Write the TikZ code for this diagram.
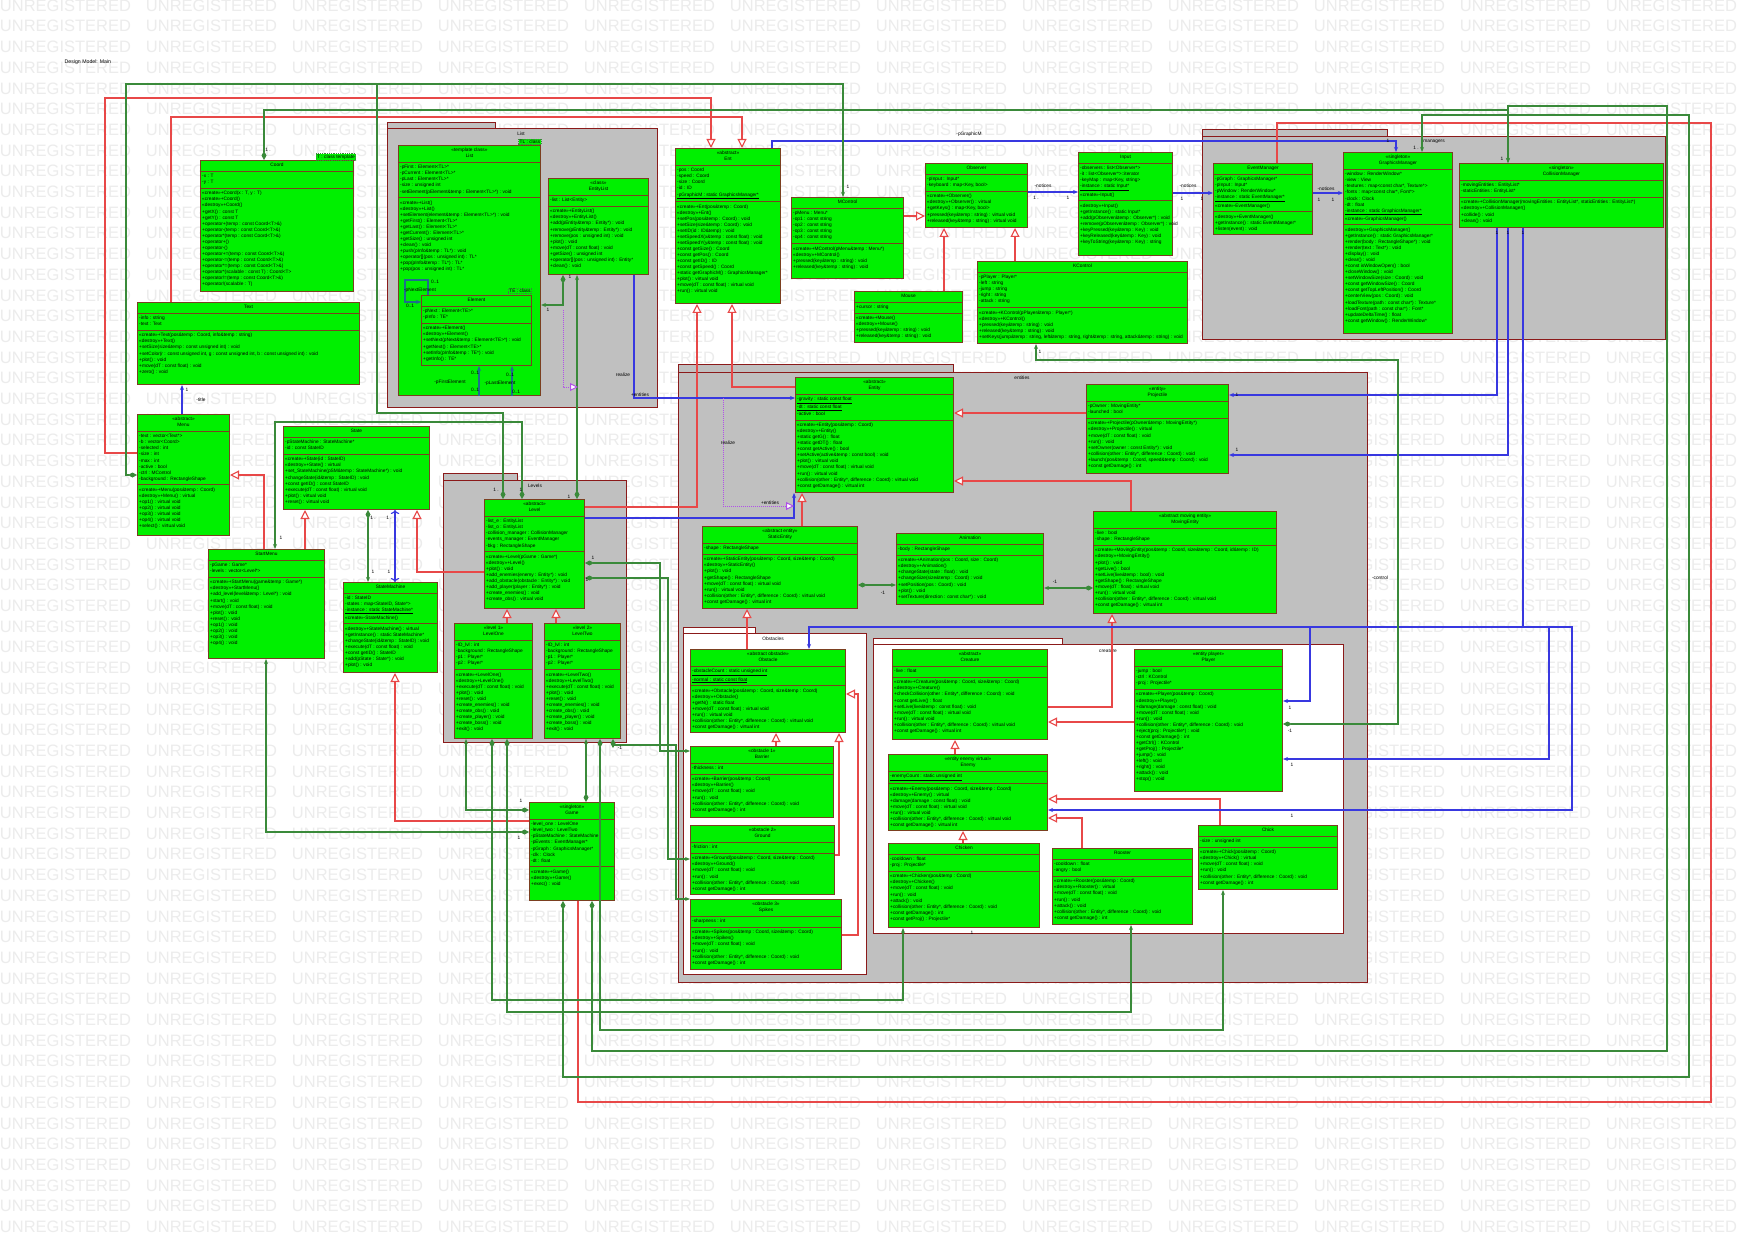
\documentclass[tikz,border=0pt]{standalone}
\usepackage{fontspec}
\setmainfont{Liberation Sans}
\usepackage{tikz}
\usetikzlibrary{arrows.meta,calc}
\definecolor{clsfill}{HTML}{00F000}
\definecolor{clsborder}{HTML}{7B3F20}
\definecolor{pkgfill}{HTML}{C0C0C0}
\definecolor{pkgborder}{HTML}{8B1A1A}
\definecolor{genred}{HTML}{E84848}
\definecolor{assocblue}{HTML}{3838E0}
\definecolor{compgreen}{HTML}{3A8A3A}
\definecolor{listteal}{HTML}{1F6E8C}
\definecolor{realizepurple}{HTML}{B050E8}
\definecolor{wmgray}{HTML}{ECECEC}

\newcommand{\clsfont}{\fontsize{4.8}{6.05}\selectfont}
\newcommand{\clslines}[1]{\def\clstmp{#1}\ifx\clstmp\empty\else\strut#1\strut\fi}
% class box: name, x, y, width, height, header, attributes, operations
\newcommand{\umlclass}[8]{%
  \node[clsbox, minimum width=#4pt, minimum height=#5pt] (#1) at (#2,#3) {};
  \node[clshead] (#1-h) at (#1.north) {\clslines{#6}};
  \draw[clsline] (#1.west |- #1-h.south) -- (#1.east |- #1-h.south);
  \path (#1.west |- #1-h.south) ++(2,0) node[clspart] (#1-a) {\clslines{#7}};
  \draw[clsline] (#1.west |- #1-a.south) -- (#1.east |- #1-a.south);
  \path (#1.west |- #1-a.south) ++(2,0) node[clspart] (#1-m) {\clslines{#8}};
}

\begin{document}
\begin{tikzpicture}[
  x=1pt, y=-1pt,
  clsbox/.style={draw=clsborder, fill=clsfill, line width=1pt, anchor=north west, inner sep=0pt},
  clshead/.style={anchor=north, align=center, inner xsep=0pt, inner ysep=2.3pt, font=\clsfont},
  clspart/.style={anchor=north west, align=left, inner xsep=0pt, inner ysep=2.3pt, font=\clsfont},
  clsline/.style={draw=clsborder, line width=0.8pt},
  pkgbody/.style={draw=pkgborder, fill=pkgfill, line width=1pt, anchor=north west, inner sep=0pt},
  pkgwhite/.style={pkgbody, fill=white},
  tmpl/.style={draw=compgreen, densely dotted, fill=clsfill, line width=0.8pt, font=\clsfont, inner sep=1pt},
  mult/.style={font=\clsfont, inner sep=0.5pt},
  wmark/.style={font=\fontsize{16.5}{16.5}\selectfont, text=wmgray, inner sep=0pt},
  gen/.style={draw=genred, line width=1.1pt, -{Triangle[length=9pt, width=9pt, fill=white]}},
  redline/.style={draw=genred, line width=1.1pt},
  assoc/.style={draw=assocblue, line width=1.1pt, -{Stealth[length=5pt, width=4pt]}},
  comp/.style={draw=compgreen, line width=1.1pt, {Diamond[length=9pt, width=5pt]}-{Stealth[length=5pt, width=4pt]}},
  compline/.style={draw=compgreen, line width=1.1pt, {Diamond[length=9pt, width=5pt]}-},
  tealarrow/.style={draw=listteal, line width=1.1pt, -{Stealth[length=5pt, width=4pt]}},
  realize/.style={draw=realizepurple, densely dotted, line width=1pt, -{Triangle[length=8pt, width=8pt, fill=white]}}
]
\useasboundingbox (0,0) rectangle (1754,1241);
\fill[white] (0,0) rectangle (1754,1241);

% watermark rows
\foreach \r in {0,...,59} {
  \foreach \c in {0,...,11} {
    \node[wmark] (wm-\r-\c) at (\c*146+65.5, \r*20.7+5.6) {UNREGISTERED};
  }
}

\node[mult, anchor=west, font=\fontsize{5.2}{6}\selectfont] (title) at (64,62) {Design Model: Main};

% packages
\node[pkgbody, minimum width=108pt, minimum height=7pt] (pkg-list-tab) at (387,122) {};
\node[pkgbody, minimum width=270pt, minimum height=279pt] (pkg-list) at (387,128) {};
\node[pkgbody, minimum width=74pt, minimum height=7pt] (pkg-levels-tab) at (443,473) {};
\node[pkgbody, minimum width=183pt, minimum height=262pt] (pkg-levels) at (443,480) {};
\node[pkgbody, minimum width=275pt, minimum height=8pt] (pkg-entities-tab) at (678,364) {};
\node[pkgbody, minimum width=689pt, minimum height=610pt] (pkg-entities) at (678,372) {};
\node[pkgwhite, minimum width=72pt, minimum height=6pt] (pkg-obstacles-tab) at (683,627) {};
\node[pkgwhite, minimum width=183pt, minimum height=341pt] (pkg-obstacles) at (683,633) {};
\node[pkgwhite, minimum width=189pt, minimum height=6pt] (pkg-creature-tab) at (873,638) {};
\node[pkgwhite, minimum width=470pt, minimum height=289pt] (pkg-creature) at (873,644) {};
\node[pkgbody, minimum width=185pt, minimum height=7pt] (pkg-managers-tab) at (1202,129) {};
\node[pkgbody, minimum width=463pt, minimum height=203pt] (pkg-managers) at (1202,136) {};
\node[mult] (lbl-list) at (521,134) {List};
\node[mult] (lbl-levels) at (535,486) {Levels};
\node[mult] (lbl-entities) at (1022,378) {entities};
\node[mult] (lbl-obstacles) at (773,639) {Obstacles};
\node[mult] (lbl-creature) at (1108,651) {creature};
\node[mult] (lbl-managers) at (1434,142) {managers};

% left column
\umlclass{coord}{200}{160}{153}{131}{Coord}{-x : T\\-y : T}{«create»+Coord(x : T, y : T)\\«create»+Coord()\\«destroy»+Coord()\\+getX() : const T\\+getY() : const T\\+operator+(temp : const Coord<T>\&)\\+operator-(temp : const Coord<T>\&)\\+operator*(temp : const Coord<T>\&)\\+operator+()\\+operator-()\\+operator+=(temp : const Coord<T>\&)\\+operator-=(temp : const Coord<T>\&)\\+operator*=(temp : const Coord<T>\&)\\+operator*(scalable : const T) : Coord<T>\\+operator/=(temp : const Coord<T>\&)\\+operator/(scalable : T)}
\node[tmpl] (coord-t) at (336,157) {T : class template};

\umlclass{text}{137}{302}{222}{82}{Text}{-info : string\\-text : Text}{«create»+Text(pos\&temp : Coord, info\&temp : string)\\«destroy»+Text()\\+setSize(size\&temp : const unsigned int) : void\\+setColor(r : const unsigned int, g : const unsigned int, b : const unsigned int) : void\\+plot() : void\\+move(dT : const float) : void\\+zero() : void}

\umlclass{menu}{137}{414}{92}{121}{«abstract»\\Menu}{-text : vector<Text*>\\-b : vector<Coord>\\-selected : int\\-size : int\\-max : int\\-active : bool\\-ctrl : MControl\\-background : RectangleShape}{«create»+Menu(pos\&temp : Coord)\\«destroy»+Menu() : virtual\\+op1() : virtual void\\+op2() : virtual void\\+op3() : virtual void\\+op4() : virtual void\\+select() : virtual void}

\umlclass{startmenu}{208}{549}{116}{109}{StartMenu}{-pGame : Game*\\-levels : vector<Level*>}{«create»+StartMenu(game\&temp : Game*)\\«destroy»+StartMenu()\\+add\_level(level\&temp : Level*) : void\\+start() : void\\+move(dT : const float) : void\\+plot() : void\\+reset() : void\\+op1() : void\\+op2() : void\\+op3() : void\\+op4() : void}

\umlclass{state}{283}{426}{146}{83}{State}{-pStateMachine : StateMachine*\\-id : const StateID}{«create»+State(id : StateID)\\«destroy»+State() : virtual\\+set\_StateMachine(pSM\&temp : StateMachine*) : void\\+changeState(id\&temp : StateID) : void\\+const getID() : const StateID\\+execute(dT : const float) : virtual void\\+plot() : virtual void\\+reset() : virtual void}

\umlclass{statemachine}{343}{582}{94}{90}{StateMachine}{-id : StateID\\-states : map<StateID, State*>\\\underline{-instance : static StateMachine*}\\«create»-StateMachine()}{«destroy»+StateMachine() : virtual\\+getInstance() : static StateMachine*\\+changeState(id\&temp : StateID) : void\\+execute(dT : const float) : void\\+const getID() : StateID\\+add(pState : State*) : void\\+plot() : void}

% list package
\umlclass{list}{398}{145}{142}{250}{«template class»\\List}{-pFirst : Element<TL>*\\-pCurrent : Element<TL>*\\-pLast : Element<TL>*\\-size : unsigned int\\-setElement(pElement\&temp : Element<TL>*) : void}{«create»+List()\\«destroy»+List()\\+setElement(element\&temp : Element<TL>*) : void\\+getFirst() : Element<TL>*\\+getLast() : Element<TL>*\\+getCurrent() : Element<TL>*\\+getSize() : unsigned int\\+clean() : void\\+push(pInfo\&temp : TL*) : void\\+operator[](pos : unsigned int) : TL*\\+pop(pInfo\&temp : TL*) : TL*\\+pop(pos : unsigned int) : TL*}
\node[tmpl] (list-t) at (530,142) {TL : class};
\umlclass{element}{421}{295}{110}{70}{Element}{-pNext : Element<TE>*\\-pInfo : TE*}{«create»+Element()\\«destroy»+Element()\\+setNext(pNext\&temp : Element<TE>*) : void\\+getNext() : Element<TE>*\\+setInfo(pInfo\&temp : TE*) : void\\+getInfo() : TE*}
\node[tmpl] (element-t) at (520,291) {TE : class};
\umlclass{entitylist}{548}{178}{100}{96}{«class»\\EntityList}{-list : List<Entity>}{«create»+EntityList()\\«destroy»+EntityList()\\+add(pEntity\&temp : Entity*) : void\\+remove(pEntity\&temp : Entity*) : void\\+remove(pos : unsigned int) : void\\+plot() : void\\+move(dT : const float) : void\\+getSize() : unsigned int\\+operator[](pos : unsigned int) : Entity*\\+clean() : void}

% top row
\umlclass{ent}{675}{148}{105}{155}{«abstract»\\Ent}{-pos : Coord\\-speed : Coord\\-size : Coord\\-id : ID\\\underline{-pGraphicM : static GraphicsManager*}}{«create»+Ent(pos\&temp : Coord)\\«destroy»+Ent()\\+setPos(pos\&temp : Coord) : void\\+setSize(size\&temp : Coord) : void\\+setID(id : ID\&temp) : void\\+setSpeedX(x\&temp : const float) : void\\+setSpeedY(y\&temp : const float) : void\\+const getSize() : Coord\\+const getPos() : Coord\\+const getID() : ID\\+const getSpeed() : Coord\\+static getGraphicM() : GraphicsManager*\\+plot() : virtual void\\+move(dT : const float) : virtual void\\+run() : virtual void}

\umlclass{mcontrol}{791}{197}{112}{81}{MControl}{-pMenu : Menu*\\-op1 : const string\\-op2 : const string\\-op3 : const string\\-op4 : const string}{«create»+MControl(pMenu\&temp : Menu*)\\«destroy»+MControl()\\+pressed(key\&temp : string) : void\\+released(key\&temp : string) : void}

\umlclass{observer}{925}{163}{102}{64}{Observer}{-pInput : Input*\\-keyboard : map<Key, bool>}{«create»+Observer()\\«destroy»+Observer() : virtual\\+getKeys() : map<Key, bool>\\+pressed(key\&temp : string) : virtual void\\+released(key\&temp : string) : virtual void}

\umlclass{mouse}{854}{291}{108}{51}{Mouse}{+cursor : string}{«create»+Mouse()\\«destroy»+Mouse()\\+pressed(key\&temp : string) : void\\+released(key\&temp : string) : void}

\umlclass{kcontrol}{977}{261}{210}{82}{KControl}{-pPlayer : Player*\\-left : string\\-jump : string\\-right : string\\-attack : string}{«create»+KControl(pPlayer\&temp : Player*)\\«destroy»+KControl()\\+pressed(key\&temp : string) : void\\+released(key\&temp : string) : void\\+setKeys(jump\&temp : string, left\&temp : string, right\&temp : string, attack\&temp : string) : void}

\umlclass{input}{1078}{152}{94}{103}{Input}{-observers : list<Observer*>\\-it : list<Observer*>::iterator\\-keyMap : map<Key, string>\\\underline{-instance : static Input*}\\«create»-Input()}{«destroy»+Input()\\+getInstance() : static Input*\\+add(pObserver\&temp : Observer*) : void\\+remove(pObserver\&temp : Observer*) : void\\+keyPressed(key\&temp : Key) : void\\+keyReleased(key\&temp : Key) : void\\+keyToString(key\&temp : Key) : string}

% managers package
\umlclass{eventmanager}{1213}{163}{99}{71}{EventManager}{-pGraph : GraphicsManager*\\-pInput : Input*\\-pWindow : RenderWindow*\\\underline{-instance : static EventManager*}\\«create»-EventManager()}{«destroy»+EventManager()\\+getInstance() : static EventManager*\\+listen(event) : void}

\umlclass{graphicsmanager}{1343}{152}{109}{181}{«singleton»\\GraphicsManager}{-window : RenderWindow*\\-view : View\\-textures : map<const char*, Texture*>\\-fonts : map<const char*, Font*>\\-clock : Clock\\-dt : float\\\underline{-instance : static GraphicsManager*}\\«create»-GraphicsManager()}{«destroy»+GraphicsManager()\\+getInstance() : static GraphicsManager*\\+render(body : RectangleShape*) : void\\+render(text : Text*) : void\\+display() : void\\+clear() : void\\+const isWindowOpen() : bool\\+closeWindow() : void\\+setWindowSize(size : Coord) : void\\+const getWindowSize() : Coord\\+const getTopLeftPosition() : Coord\\+centerView(pos : Coord) : void\\+loadTexture(path : const char*) : Texture*\\+loadFont(path : const char*) : Font*\\+updateDeltaTime() : float\\+const getWindow() : RenderWindow*}

\umlclass{collisionmanager}{1459}{163}{204}{64}{«singleton»\\CollisionManager}{-movingEntities : EntityList*\\-staticEntities : EntityList*}{«create»+CollisionManager(movingEntities : EntityList*, staticEntities : EntityList*)\\«destroy»+CollisionManager()\\+collide() : void\\+clean() : void}

% levels package
\umlclass{level}{484}{499}{100}{109}{«abstract»\\Level}{-list\_e : EntityList\\-list\_o : EntityList\\-collision\_manager : CollisionManager\\-events\_manager : EventManager\\-bkg : RectangleShape}{«create»+Level(pGame : Game*)\\«destroy»+Level()\\+plot() : void\\+add\_enemies(enemy : Entity*) : void\\+add\_obstacle(obstacle : Entity*) : void\\+add\_player(player : Entity*) : void\\+create\_enemies() : void\\+create\_obs() : virtual void}

\umlclass{levelone}{454}{623}{78}{115}{«level 1»\\LevelOne}{-ID\_lvl : int\\-background : RectangleShape\\-p1 : Player*\\-p2 : Player*}{«create»+LevelOne()\\«destroy»+LevelOne()\\+execute(dT : const float) : void\\+plot() : void\\+reset() : void\\+create\_enemies() : void\\+create\_obs() : void\\+create\_player() : void\\+create\_boss() : void\\+exit() : void}

\umlclass{leveltwo}{544}{623}{76}{115}{«level 2»\\LevelTwo}{-ID\_lvl : int\\-background : RectangleShape\\-p1 : Player*\\-p2 : Player*}{«create»+LevelTwo()\\«destroy»+LevelTwo()\\+execute(dT : const float) : void\\+plot() : void\\+reset() : void\\+create\_enemies() : void\\+create\_obs() : void\\+create\_player() : void\\+create\_boss() : void\\+exit() : void}

\umlclass{game}{529}{802}{85}{98}{«singleton»\\Game}{-level\_one : LevelOne\\-level\_two : LevelTwo\\-pStateMachine : StateMachine\\-pEvents : EventManager*\\-pGraph : GraphicsManager*\\-clk : Clock\\-dt : float}{«create»+Game()\\«destroy»+Game()\\+exec() : void}

% entities package
\umlclass{entity}{795}{377}{158}{115}{«abstract»\\Entity}{\underline{-gravity : static const float}\\\underline{-dt : static const float}\\-active : bool}{«create»+Entity(pos\&temp : Coord)\\«destroy»+Entity()\\+static getG() : float\\+static getDT() : float\\+const getActive() : bool\\+setActive(active\&temp : const bool) : void\\+plot() : virtual void\\+move(dT : const float) : virtual void\\+run() : virtual void\\+collision(other : Entity*, difference : Coord) : virtual void\\+const getDamage() : virtual int}

\umlclass{staticentity}{702}{526}{155}{82}{«abstract entity»\\StaticEntity}{-shape : RectangleShape}{«create»+StaticEntity(pos\&temp : Coord, size\&temp : Coord)\\«destroy»+StaticEntity()\\+plot() : void\\+getShape() : RectangleShape\\+move(dT : const float) : virtual void\\+run() : virtual void\\+collision(other : Entity*, difference : Coord) : virtual void\\+const getDamage() : virtual int}

\umlclass{animation}{896}{533}{147}{71}{Animation}{-body : RectangleShape}{«create»+Animation(pos : Coord, size : Coord)\\«destroy»+Animation()\\+changeState(state : float) : void\\+changeSize(size\&temp : Coord) : void\\+setPosition(pos : Coord) : void\\+plot() : void\\+setTexture(direction : const char*) : void}

\umlclass{projectile}{1086}{384}{142}{89}{«entity»\\Projectile}{-pOwner : MovingEntity*\\-launched : bool}{«create»+Projectile(pOwner\&temp : MovingEntity*)\\«destroy»+Projectile() : virtual\\+move(dT : const float) : void\\+run() : void\\+setOwner(owner : const Entity*) : void\\+collision(other : Entity*, difference : Coord) : void\\+launch(pos\&temp : Coord, speed\&temp : Coord) : void\\+const getDamage() : int}

\umlclass{movingentity}{1093}{511}{183}{102}{«abstract moving entity»\\MovingEntity}{-live : bool\\-shape : RectangleShape}{«create»+MovingEntity(pos\&temp : Coord, size\&temp : Coord, id\&temp : ID)\\«destroy»+MovingEntity()\\+plot() : void\\+getLive() : bool\\+setLive(live\&temp : bool) : void\\+getShape() : RectangleShape\\+move(dT : float) : virtual void\\+run() : virtual void\\+collision(other : Entity*, difference : Coord) : virtual void\\+const getDamage() : virtual int}

% obstacles package
\umlclass{obstacle}{690}{649}{155}{83}{«abstract obstacle»\\Obstacle}{\underline{-obstacleCount : static unsigned int}\\\underline{-normal : static const float}}{«create»+Obstacle(pos\&temp : Coord, size\&temp : Coord)\\«destroy»+Obstacle()\\+getN() : static float\\+move(dT : const float) : virtual void\\+run() : virtual void\\+collision(other : Entity*, difference : Coord) : virtual void\\+const getDamage() : virtual int}

\umlclass{barrier}{690}{746}{143}{71}{«obstacle 1»\\Barrier}{-thickness : int}{«create»+Barrier(pos\&temp : Coord)\\«destroy»+Barrier()\\+move(dT : const float) : void\\+run() : void\\+collision(other : Entity*, difference : Coord) : void\\+const getDamage() : int}

\umlclass{ground}{690}{825}{144}{69}{«obstacle 2»\\Ground}{-friction : int}{«create»+Ground(pos\&temp : Coord, size\&temp : Coord)\\«destroy»+Ground()\\+move(dT : const float) : void\\+run() : void\\+collision(other : Entity*, difference : Coord) : void\\+const getDamage() : int}

\umlclass{spikes}{690}{899}{151}{70}{«obstacle 3»\\Spikes}{-sharpness : int}{«create»+Spikes(pos\&temp : Coord, size\&temp : Coord)\\«destroy»+Spikes()\\+move(dT : const float) : void\\+run() : void\\+collision(other : Entity*, difference : Coord) : void\\+const getDamage() : int}

% creature package
\umlclass{creature}{892}{649}{155}{90}{«abstract»\\Creature}{-live : float}{«create»+Creature(pos\&temp : Coord, size\&temp : Coord)\\«destroy»+Creature()\\+checkCollision(other : Entity*, difference : Coord) : void\\+const getLive() : float\\+setLive(live\&temp : const float) : void\\+move(dT : const float) : virtual void\\+run() : virtual void\\+collision(other : Entity*, difference : Coord) : virtual void\\+const getDamage() : virtual int}

\umlclass{player}{1134}{649}{148}{142}{«entity player»\\Player}{-jump : bool\\-ctrl : KControl\\-proj : Projectile*}{«create»+Player(pos\&temp : Coord)\\«destroy»+Player()\\+damage(damage : const float) : void\\+move(dT : const float) : void\\+run() : void\\+collision(other : Entity*, difference : Coord) : void\\+eject(proj : Projectile*) : void\\+const getDamage() : int\\+getCtrl() : KControl\\+getProj() : Projectile*\\+jump() : void\\+left() : void\\+right() : void\\+attack() : void\\+stop() : void}

\umlclass{enemy}{888}{754}{159}{76}{«entity enemy virtual»\\Enemy}{\underline{-enemyCount : static unsigned int}}{«create»+Enemy(pos\&temp : Coord, size\&temp : Coord)\\«destroy»+Enemy() : virtual\\+damage(damage : const float) : void\\+move(dT : const float) : virtual void\\+run() : virtual void\\+collision(other : Entity*, difference : Coord) : virtual void\\+const getDamage() : virtual int}

\umlclass{chicken}{888}{843}{151}{84}{Chicken}{-cooldown : float\\-proj : Projectile*}{«create»+Chicken(pos\&temp : Coord)\\«destroy»+Chicken()\\+move(dT : const float) : void\\+run() : void\\+attack() : void\\+collision(other : Entity*, difference : Coord) : void\\+const getDamage() : int\\+const getProj() : Projectile*}

\umlclass{rooster}{1052}{848}{140}{76}{Rooster}{-cooldown : float\\-angry : bool}{«create»+Rooster(pos\&temp : Coord)\\«destroy»+Rooster() : virtual\\+move(dT : const float) : void\\+run() : void\\+attack() : void\\+collision(other : Entity*, difference : Coord) : void\\+const getDamage() : int}

\umlclass{chick}{1198}{825}{139}{64}{Chick}{-size : unsigned int}{«create»+Chick(pos\&temp : Coord)\\«destroy»+Chick() : virtual\\+move(dT : const float) : void\\+run() : void\\+collision(other : Entity*, difference : Coord) : void\\+const getDamage() : int}

% generalizations
\draw[gen] (menu.west |- 0,453) -| (105,98) -| (711,0 |- ent.north);
\draw[gen] (171,0 |- text.north) |- (742,117) -- (742,0 |- ent.north);
\draw[gen] (level.east |- 0,507) -| (697,0 |- ent.south);
\draw[gen] (entity.west |- 0,387) -| (732,0 |- ent.south);
\draw[gen] (264,0 |- startmenu.north) |- (menu.east |- 0,475);
\draw[gen] (305,0 |- startmenu.north) -- (305,0 |- state.south);
\draw[gen] (level.west |- 0,572) -| (417,0 |- state.south);
\draw[gen] (game.west |- 0,821) -| (395,0 |- statemachine.south);
\draw[gen] (507,0 |- levelone.north) -- (507,0 |- level.south);
\draw[gen] (556,0 |- leveltwo.north) -- (556,0 |- level.south);
\draw[gen] (mcontrol.east |- 0,216) -- (observer.west |- 0,216);
\draw[gen] (944,0 |- mouse.north) -- (944,0 |- observer.south);
\draw[gen] (1015,0 |- kcontrol.north) -- (1015,0 |- observer.south);
\draw[gen] (projectile.west |- 0,413) -- (entity.east |- 0,413);
\draw[gen] (1131,0 |- movingentity.north) |- (entity.east |- 0,481);
\draw[gen] (802,0 |- staticentity.north) -- (802,0 |- entity.south);
\draw[gen] (747,0 |- obstacle.north) -- (747,0 |- staticentity.south);
\draw[gen] (776,0 |- barrier.north) -- (776,0 |- obstacle.south);
\draw[gen] (ground.east |- 0,855) -| (839,0 |- obstacle.south);
\draw[gen] (spikes.east |- 0,935) -| (858,694) -- (obstacle.east |- 0,694);
\draw[gen] (creature.east |- 0,707) -| (1112,0 |- movingentity.south);
\draw[gen] (player.west |- 0,722) -- (creature.east |- 0,722);
\draw[gen] (955,0 |- enemy.north) -- (955,0 |- creature.south);
\draw[gen] (963,0 |- chicken.north) -- (963,0 |- enemy.south);
\draw[gen] (1082,0 |- rooster.north) |- (enemy.east |- 0,818);
\draw[gen] (1220,0 |- chick.north) |- (enemy.east |- 0,799);
\draw[redline] (578,0 |- game.south) |- (1711,1102) |- (1277,123) -- (1277,0 |- eventmanager.north);

% associations
\draw[assoc] (182,0 |- menu.north) -- (182,0 |- text.south);
\draw[assoc, <->] (395,0 |- statemachine.north) -- (395,0 |- state.south);
\draw[assoc] (observer.east |- 0,192) -- (input.west |- 0,192);
\draw[assoc] (input.east |- 0,193) -- (eventmanager.west |- 0,193);
\draw[assoc] (eventmanager.east |- 0,193) -- (graphicsmanager.west |- 0,193);
\draw[assoc] (772,0 |- ent.north) |- (1396,141) -- (1396,0 |- graphicsmanager.north);
\draw[assoc] (634,0 |- entitylist.south) |- (entity.west |- 0,398);
\draw[assoc] (level.east |- 0,518) -| (794,0 |- entity.south);
\draw[assoc] (1497,0 |- collisionmanager.south) |- (projectile.east |- 0,395);
\draw[assoc] (1508,0 |- collisionmanager.south) |- (projectile.east |- 0,455);
\draw[assoc] (1523,0 |- collisionmanager.south) |- (809,627) -- (809,0 |- obstacle.north);
\draw[assoc] (1523,627) -| (1310,701) -- (player.east |- 0,701);
\draw[assoc] (1523,627) -| (1549,759) -- (player.east |- 0,759);
\draw[assoc] (1549,627) -| (1572,810) -- (enemy.east |- 0,810);

% compositions
\draw[comp] (368,0 |- state.south) -- (368,0 |- statemachine.north);
\draw[comp] (menu.west |- 0,475) -| (126,84) -| (843,0 |- mcontrol.north);
\draw[compline] (503,0 |- level.north) |- (377,413) -- (377,84);
\draw[comp] (264,0 |- coord.north) |- (1508,110) -- (1508,0 |- collisionmanager.north);
\draw[comp] (563,0 |- entitylist.south) |- (list.east |- 0,305);
\draw[comp] (577,0 |- level.north) -- (577,0 |- entitylist.south);
\draw[comp] (522,0 |- level.north) |- (275,422) -- (275,0 |- startmenu.north);
\draw[comp] (staticentity.east |- 0,585) -- (animation.west |- 0,585);
\draw[comp] (movingentity.west |- 0,588) -- (animation.east |- 0,588);
\draw[comp] (game.west |- 0,832) -| (266,0 |- startmenu.south);
\draw[comp] (game.west |- 0,810) -| (466,0 |- levelone.south);
\draw[comp] (586,0 |- game.north) -- (586,0 |- leveltwo.south);
\draw[comp] (563,0 |- game.south) |- (1689,1077) |- (1422,115) -- (1422,0 |- graphicsmanager.north);
\draw[comp] (592,0 |- game.south) |- (1667,1051) |- (1508,106) -- (1508,0 |- collisionmanager.north);
\draw[comp] (level.east |- 0,563) -| (660,751) -- (barrier.west |- 0,751);
\draw[comp] (level.east |- 0,578) -| (668,859) -- (ground.west |- 0,859);
\draw[comp] (613,0 |- leveltwo.south) |- (676,745) |- (spikes.west |- 0,899);
\draw[comp] (492,0 |- levelone.south) |- (903,1000) -- (903,0 |- chicken.south);
\draw[comp] (507,0 |- levelone.south) |- (1131,1012) -- (1131,0 |- rooster.south);
\draw[comp] (600,0 |- leveltwo.south) |- (1223,1030) -- (1223,0 |- chick.south);
\draw[comp] (player.east |- 0,724) -| (1398,360) -| (1036,0 |- kcontrol.south);

% realizations
\draw[realize] (563,310) |- (578,387);
\draw[realize] (723,398) |- (794,506);

% list internals
\draw[tealarrow] (428,0 |- element.north) |- (405,280) |- (element.west |- 0,302);
\draw[tealarrow] (479,0 |- list.south) -- (479,0 |- element.south);
\draw[tealarrow] (512,0 |- list.south) -- (512,0 |- element.south);

% labels
\node[mult] (m-1) at (435,282) {0..1};
\node[mult] (m-2) at (410,306) {0..1};
\node[mult] (m-3) at (420,290) {-pNextElement};
\node[mult] (m-4) at (475,373) {0..1};
\node[mult] (m-5) at (475,390) {0..1};
\node[mult] (m-6) at (510,375) {0..1};
\node[mult] (m-7) at (516,392) {0..1};
\node[mult] (m-8) at (450,382) {-pFirstElement};
\node[mult] (m-9) at (500,383) {-pLastElement};
\node[mult] (m-10) at (548,310) {1};
\node[mult] (m-11) at (570,277) {1};
\node[mult] (m-12) at (623,375) {realize};
\node[mult] (m-13) at (640,395) {+entities};
\node[mult] (m-14) at (728,443) {realize};
\node[mult] (m-15) at (770,503) {+entities};
\node[mult] (m-16) at (187,390) {1};
\node[mult] (m-17) at (201,400) {-title};
\node[mult] (m-18) at (281,538) {1};
\node[mult] (m-19) at (373,518) {1 .};
\node[mult] (m-20) at (389,518) {1 .};
\node[mult] (m-21) at (373,572) {1};
\node[mult] (m-22) at (389,572) {1};
\node[mult] (m-23) at (848,187) {1};
\node[mult] (m-24) at (1043,186) {-notices};
\node[mult] (m-25) at (1036,198) {1 .};
\node[mult] (m-26) at (1068,198) {1};
\node[mult] (m-27) at (1188,186) {-notices};
\node[mult] (m-28) at (1182,199) {1};
\node[mult] (m-29) at (1202,199) {1};
\node[mult] (m-30) at (1326,189) {-notices};
\node[mult] (m-31) at (1319,200) {1};
\node[mult] (m-32) at (1333,200) {1};
\node[mult] (m-33) at (1388,141) {1};
\node[mult] (m-34) at (1416,148) {1 .};
\node[mult] (m-35) at (1502,159) {1};
\node[mult] (m-36) at (1497,233) {1};
\node[mult] (m-37) at (1508,233) {1};
\node[mult] (m-38) at (1523,233) {1};
\node[mult] (m-39) at (1237,395) {1};
\node[mult] (m-40) at (1237,450) {1};
\node[mult] (m-41) at (496,490) {1 .};
\node[mult] (m-42) at (521,490) {1};
\node[mult] (m-43) at (569,497) {1};
\node[mult] (m-44) at (593,558) {1};
\node[mult] (m-45) at (587,580) {1};
\node[mult] (m-46) at (883,593) {-1};
\node[mult] (m-47) at (1055,582) {-1};
\node[mult] (m-48) at (521,801) {1};
\node[mult] (m-49) at (519,838) {1};
\node[mult] (m-50) at (268,150) {1 .};
\node[mult] (m-51) at (969,134) {-pGraphicM};
\node[mult] (m-52) at (1290,708) {1};
\node[mult] (m-53) at (972,933) {1};
\node[mult] (m-54) at (620,748) {-1};
\node[mult] (m-55) at (1040,352) {1};
\node[mult] (m-56) at (1290,731) {-1};
\node[mult] (m-57) at (1380,578) {-control};
\node[mult] (m-58) at (1292,765) {1};
\node[mult] (m-59) at (1292,816) {1};
\end{tikzpicture}
\end{document}
